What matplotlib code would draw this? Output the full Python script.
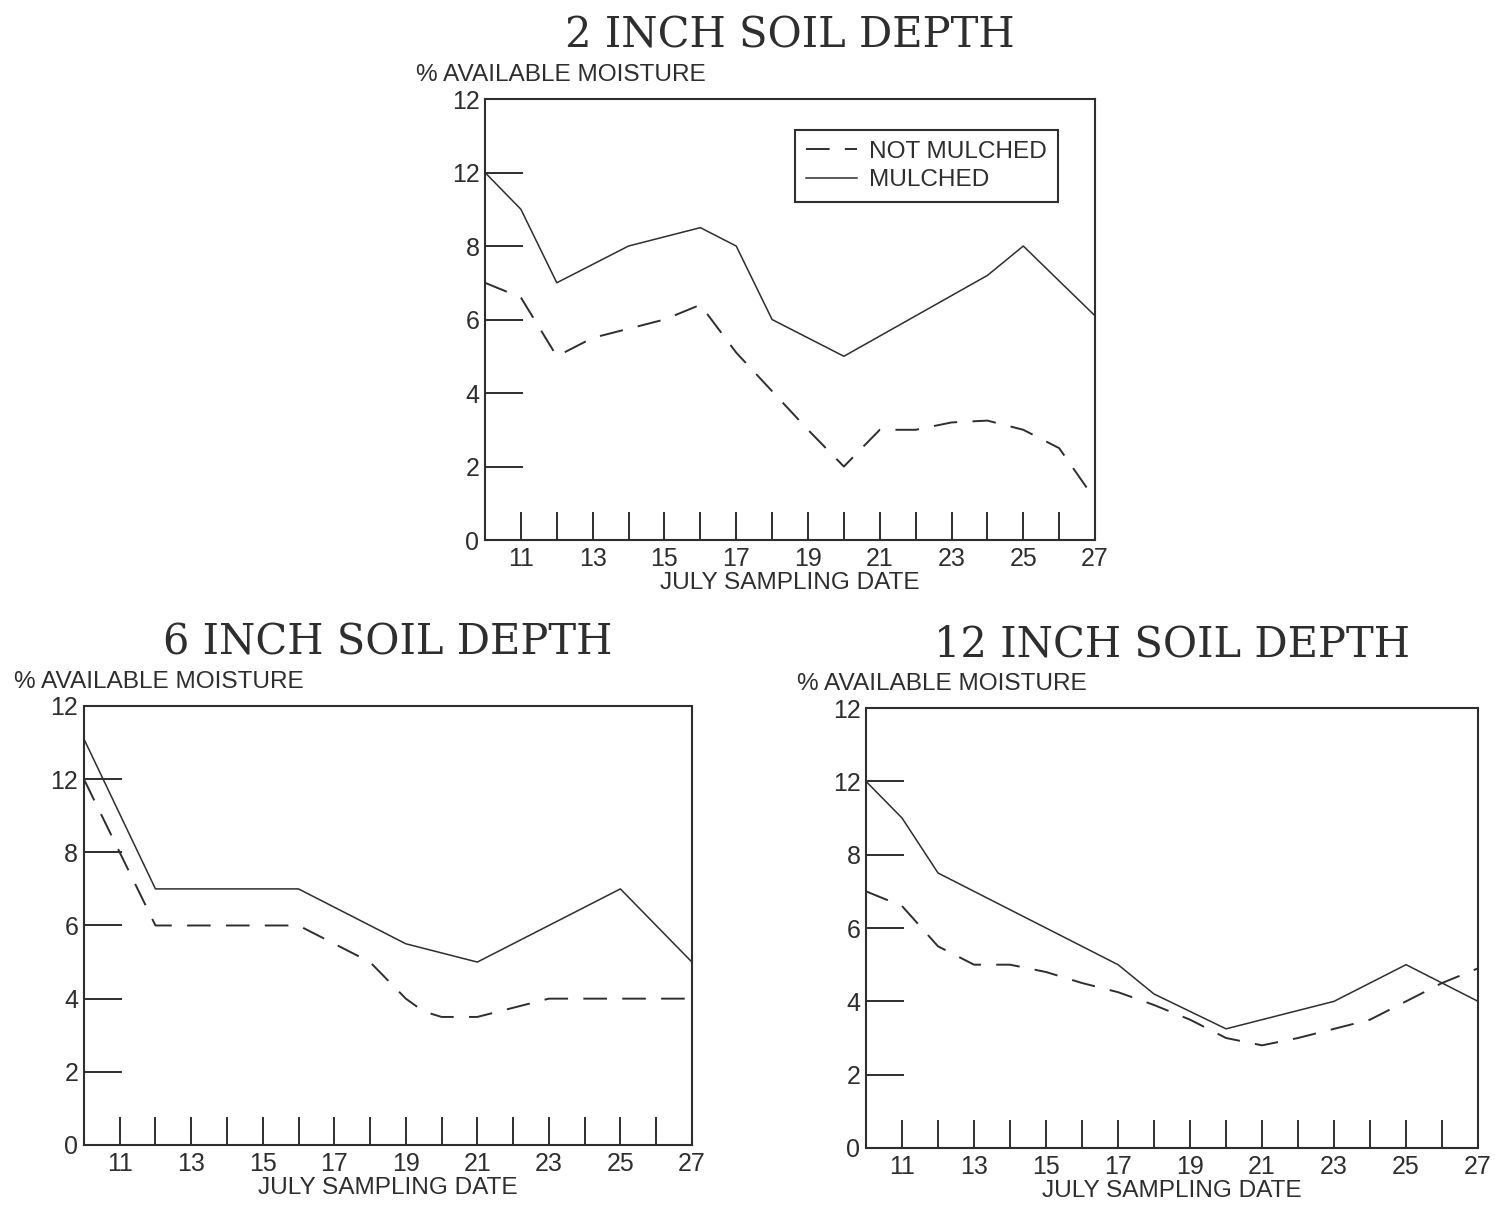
import numpy as np
import matplotlib
matplotlib.use("Agg")
import matplotlib.pyplot as plt

plt.rcParams["lines.scale_dashes"] = False
plt.rcParams["font.family"] = "Liberation Sans"

# July sampling dates and % available moisture, one pair of series per depth
days_2in_mulch = [10, 11, 12, 14, 16, 17, 18, 20, 24, 25, 27]
mulch_2in = [10.0, 9.0, 7.0, 8.0, 8.5, 8.0, 6.0, 5.0, 7.2, 8.0, 6.1]
days_2in_bare = [10, 11, 12, 13, 14, 15, 16, 17, 18, 19, 20, 21, 22, 23, 24, 25, 26, 27]
bare_2in = [7.0, 6.6, 5.0, 5.5, 5.75, 6.0, 6.4, 5.1, 4.05, 3.0, 2.0, 3.0, 3.0, 3.2, 3.25, 3.0, 2.5, 1.1]

days_6in_mulch = [10, 12, 16, 19, 21, 25, 27]
mulch_6in = [11.1, 7.0, 7.0, 5.5, 5.0, 7.0, 5.0]
days_6in_bare = [10, 12, 16, 18, 19, 19.5, 20, 21, 23, 27]
bare_6in = [10.0, 6.0, 6.0, 5.0, 4.0, 3.65, 3.5, 3.5, 4.0, 4.0]

days_12in_mulch = [10, 11, 12, 13, 14, 15, 16, 17, 18, 20, 23, 25, 27]
mulch_12in = [10.0, 9.0, 7.5, 7.0, 6.5, 6.0, 5.5, 5.0, 4.2, 3.25, 4.0, 5.0, 4.0]
days_12in_bare = [10, 11, 12, 13, 14, 15, 16, 17, 18, 19, 20, 21, 22, 23, 24, 25, 26, 27]
bare_12in = [7.0, 6.6, 5.5, 5.0, 5.0, 4.8, 4.5, 4.25, 3.9, 3.5, 3.0, 2.8, 3.0, 3.25, 3.5, 4.0, 4.5, 4.9]

ytick_pos = [0, 2, 4, 6, 8, 10, 12]
ytick_lab = ["0", "2", "4", "6", "8", "12", "12"]
xtick_pos = list(range(10, 28))
xtick_lab = [str(d) if d % 2 == 1 else "" for d in xtick_pos]

ink = "#2e2e2e"
fig = plt.figure(figsize=(14.96, 12.06), dpi=100)

panels = [
    ("2 INCH SOIL DEPTH", [0.3242, 0.5522, 0.4078, 0.3657],
     days_2in_bare, bare_2in, days_2in_mulch, mulch_2in),
    ("6 INCH SOIL DEPTH", [0.0561, 0.0506, 0.4064, 0.3640],
     days_6in_bare, bare_6in, days_6in_mulch, mulch_6in),
    ("12 INCH SOIL DEPTH", [0.5789, 0.0481, 0.4091, 0.3648],
     days_12in_bare, bare_12in, days_12in_mulch, mulch_12in),
]

for i, (title, rect, xb, yb, xm, ym) in enumerate(panels):
    ax = fig.add_axes(rect)
    ax.plot(xb, yb, color=ink, lw=1.4, dashes=(17, 11), label="NOT MULCHED")
    ax.plot(xm, ym, color=ink, lw=1.1, label="MULCHED")
    ax.set_xlim(10, 27)
    ax.set_ylim(0, 12)
    ax.set_yticks(ytick_pos)
    ax.set_yticklabels(ytick_lab)
    ax.set_xticks(xtick_pos)
    ax.set_xticklabels(xtick_lab)
    ax.tick_params(axis="y", direction="in", length=27, width=1.4, pad=4,
                   labelsize=18, colors=ink)
    ax.tick_params(axis="x", direction="in", length=20, width=1.4, pad=5,
                   labelsize=18, colors=ink)
    for sp in ax.spines.values():
        sp.set_linewidth(1.5)
        sp.set_color(ink)
    ax.set_xlabel("JULY SAMPLING DATE", fontsize=17.6, color=ink, labelpad=1)
    ax.set_title(title, family="DejaVu Serif", fontsize=30, color=ink, pad=37)
    ax.annotate("% AVAILABLE MOISTURE", xy=(0, 1), xycoords="axes fraction",
                xytext=(-50, 17), textcoords="offset points",
                ha="left", va="center", fontsize=17.6, color=ink)
    if i == 0:
        leg = ax.legend(loc="upper right", bbox_to_anchor=(0.939, 0.93),
                        borderaxespad=0, fontsize=17.6, handlelength=2.1,
                        fancybox=False, framealpha=1, edgecolor=ink,
                        borderpad=0.45, labelspacing=0.25, handletextpad=0.5)
        leg.get_frame().set_linewidth(1.5)
        for t in leg.get_texts():
            t.set_color(ink)

fig.savefig("out.png", dpi=100)
